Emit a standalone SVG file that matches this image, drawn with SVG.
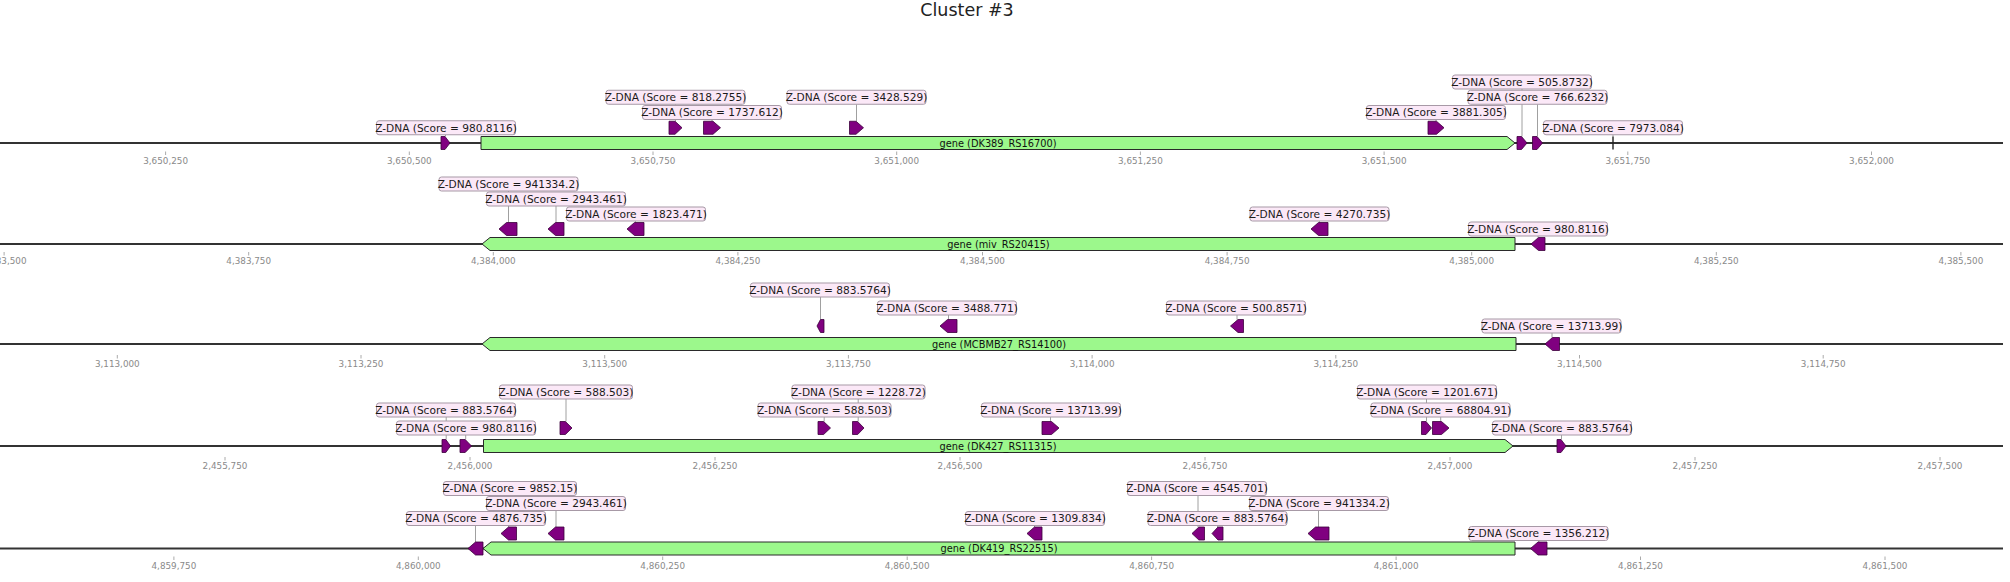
<svg xmlns="http://www.w3.org/2000/svg" width="2010" height="582" viewBox="0 0 2010 582">
<style>
text{font-family:"DejaVu Sans","Liberation Sans",sans-serif}
.title{font-size:17.5px;fill:#222;text-anchor:middle}
.ln{stroke:#333;stroke-width:1.8}
.tk line{stroke:#aaa;stroke-width:1}
.tk text{font-size:8.8px;fill:#8a8a8a;text-anchor:middle}
.c line{stroke:#a0a0a0;stroke-width:1}
.g{fill:#9cf88c;stroke:#2a2a2a;stroke-width:1}
.gt{font-size:9.8px;fill:#111;text-anchor:middle}
.z{fill:#800080;stroke:#3b003b;stroke-width:0.8}
.zl{stroke:#222;stroke-width:1.4}
.lb{fill:#fbe8f7;stroke:#a799a6;stroke-width:1}
.lt{font-size:10.6px;fill:#1a1a1a;text-anchor:middle}
</style>
<rect width="2010" height="582" fill="#fff"/>
<text class="title" x="967" y="15.5">Cluster #3</text>

<g id="axes">
<line class="ln" x1="0" y1="143" x2="2003" y2="143"/>
<line class="ln" x1="0" y1="244" x2="2003" y2="244"/>
<line class="ln" x1="0" y1="344" x2="2003" y2="344"/>
<line class="ln" x1="0" y1="446" x2="2003" y2="446"/>
<line class="ln" x1="0" y1="548.5" x2="2003" y2="548.5"/>
<g class="tk">
<line x1="165.6" y1="151.5" x2="165.6" y2="155"/><text x="165.6" y="163.7">3,650,250</text>
<line x1="409.3" y1="151.5" x2="409.3" y2="155"/><text x="409.3" y="163.7">3,650,500</text>
<line x1="653" y1="151.5" x2="653" y2="155"/><text x="653" y="163.7">3,650,750</text>
<line x1="896.7" y1="151.5" x2="896.7" y2="155"/><text x="896.7" y="163.7">3,651,000</text>
<line x1="1140.4" y1="151.5" x2="1140.4" y2="155"/><text x="1140.4" y="163.7">3,651,250</text>
<line x1="1384.1" y1="151.5" x2="1384.1" y2="155"/><text x="1384.1" y="163.7">3,651,500</text>
<line x1="1627.8" y1="151.5" x2="1627.8" y2="155"/><text x="1627.8" y="163.7">3,651,750</text>
<line x1="1871.5" y1="151.5" x2="1871.5" y2="155"/><text x="1871.5" y="163.7">3,652,000</text>

<line x1="4.1" y1="252" x2="4.1" y2="255.5"/><text x="4.1" y="264.2">4,383,500</text>
<line x1="248.7" y1="252" x2="248.7" y2="255.5"/><text x="248.7" y="264.2">4,383,750</text>
<line x1="493.3" y1="252" x2="493.3" y2="255.5"/><text x="493.3" y="264.2">4,384,000</text>
<line x1="737.9" y1="252" x2="737.9" y2="255.5"/><text x="737.9" y="264.2">4,384,250</text>
<line x1="982.5" y1="252" x2="982.5" y2="255.5"/><text x="982.5" y="264.2">4,384,500</text>
<line x1="1227.1" y1="252" x2="1227.1" y2="255.5"/><text x="1227.1" y="264.2">4,384,750</text>
<line x1="1471.7" y1="252" x2="1471.7" y2="255.5"/><text x="1471.7" y="264.2">4,385,000</text>
<line x1="1716.3" y1="252" x2="1716.3" y2="255.5"/><text x="1716.3" y="264.2">4,385,250</text>
<line x1="1960.9" y1="252" x2="1960.9" y2="255.5"/><text x="1960.9" y="264.2">4,385,500</text>

<line x1="117.3" y1="355" x2="117.3" y2="358.5"/><text x="117.3" y="366.7">3,113,000</text>
<line x1="361" y1="355" x2="361" y2="358.5"/><text x="361" y="366.7">3,113,250</text>
<line x1="604.7" y1="355" x2="604.7" y2="358.5"/><text x="604.7" y="366.7">3,113,500</text>
<line x1="848.4" y1="355" x2="848.4" y2="358.5"/><text x="848.4" y="366.7">3,113,750</text>
<line x1="1092.1" y1="355" x2="1092.1" y2="358.5"/><text x="1092.1" y="366.7">3,114,000</text>
<line x1="1335.8" y1="355" x2="1335.8" y2="358.5"/><text x="1335.8" y="366.7">3,114,250</text>
<line x1="1579.5" y1="355" x2="1579.5" y2="358.5"/><text x="1579.5" y="366.7">3,114,500</text>
<line x1="1823.2" y1="355" x2="1823.2" y2="358.5"/><text x="1823.2" y="366.7">3,114,750</text>

<line x1="225" y1="457" x2="225" y2="460.5"/><text x="225" y="469.2">2,455,750</text>
<line x1="470" y1="457" x2="470" y2="460.5"/><text x="470" y="469.2">2,456,000</text>
<line x1="715" y1="457" x2="715" y2="460.5"/><text x="715" y="469.2">2,456,250</text>
<line x1="960" y1="457" x2="960" y2="460.5"/><text x="960" y="469.2">2,456,500</text>
<line x1="1205" y1="457" x2="1205" y2="460.5"/><text x="1205" y="469.2">2,456,750</text>
<line x1="1450" y1="457" x2="1450" y2="460.5"/><text x="1450" y="469.2">2,457,000</text>
<line x1="1695" y1="457" x2="1695" y2="460.5"/><text x="1695" y="469.2">2,457,250</text>
<line x1="1940" y1="457" x2="1940" y2="460.5"/><text x="1940" y="469.2">2,457,500</text>

<line x1="173.9" y1="556.5" x2="173.9" y2="560"/><text x="173.9" y="569">4,859,750</text>
<line x1="418.3" y1="556.5" x2="418.3" y2="560"/><text x="418.3" y="569">4,860,000</text>
<line x1="662.7" y1="556.5" x2="662.7" y2="560"/><text x="662.7" y="569">4,860,250</text>
<line x1="907.2" y1="556.5" x2="907.2" y2="560"/><text x="907.2" y="569">4,860,500</text>
<line x1="1151.6" y1="556.5" x2="1151.6" y2="560"/><text x="1151.6" y="569">4,860,750</text>
<line x1="1396.1" y1="556.5" x2="1396.1" y2="560"/><text x="1396.1" y="569">4,861,000</text>
<line x1="1640.5" y1="556.5" x2="1640.5" y2="560"/><text x="1640.5" y="569">4,861,250</text>
<line x1="1885" y1="556.5" x2="1885" y2="560"/><text x="1885" y="569">4,861,500</text>
</g>
</g>

<g id="connectors" class="c">
<line x1="445.5" y1="134.75" x2="445.5" y2="136.5"/>
<line x1="675.5" y1="104.25" x2="675.5" y2="121.25"/>
<line x1="712" y1="119.5" x2="712" y2="121.25"/>
<line x1="856.5" y1="104.25" x2="856.5" y2="121.25"/>
<line x1="1436" y1="119.5" x2="1436" y2="121.25"/>
<line x1="1522" y1="89" x2="1522" y2="136.5"/>
<line x1="1537.5" y1="104.25" x2="1537.5" y2="136.5"/>
<line x1="1613" y1="134.75" x2="1613" y2="136.5"/>

<line x1="508.5" y1="191" x2="508.5" y2="222.5"/>
<line x1="556" y1="206" x2="556" y2="222.5"/>
<line x1="635.5" y1="221" x2="635.5" y2="222.5"/>
<line x1="1319.5" y1="221" x2="1319.5" y2="222.5"/>
<line x1="1538" y1="236" x2="1538" y2="237.5"/>

<line x1="820.5" y1="297" x2="820.5" y2="319.5"/>
<line x1="948.5" y1="315" x2="948.5" y2="319.5"/>
<line x1="1237" y1="315" x2="1237" y2="319.5"/>
<line x1="1552" y1="333" x2="1552" y2="337.5"/>

<line x1="446.2" y1="417" x2="446.2" y2="439.5"/>
<line x1="465.7" y1="435" x2="465.7" y2="439.5"/>
<line x1="566" y1="399" x2="566" y2="421.5"/>
<line x1="824.2" y1="417" x2="824.2" y2="421.5"/>
<line x1="858.2" y1="399" x2="858.2" y2="421.5"/>
<line x1="1050.5" y1="417" x2="1050.5" y2="421.5"/>
<line x1="1426.5" y1="399" x2="1426.5" y2="421.5"/>
<line x1="1440.7" y1="417" x2="1440.7" y2="421.5"/>
<line x1="1561.5" y1="435" x2="1561.5" y2="439.5"/>

<line x1="475.5" y1="525.5" x2="475.5" y2="542"/>
<line x1="508.7" y1="495.5" x2="508.7" y2="527"/>
<line x1="556" y1="510.5" x2="556" y2="527"/>
<line x1="1034.5" y1="525.5" x2="1034.5" y2="527"/>
<line x1="1198" y1="495.5" x2="1198" y2="527"/>
<line x1="1217.5" y1="525.5" x2="1217.5" y2="527"/>
<line x1="1318.5" y1="510.5" x2="1318.5" y2="527"/>
<line x1="1538.8" y1="540.5" x2="1538.8" y2="542"/>
</g>

<!-- Track 1 -->
<g id="t1-gene"><polygon class="g" points="481,136.5 1507,136.5 1515,143 1507,149.5 481,149.5"/><text class="gt" x="998" y="146.5">gene (DK389_RS16700)</text></g>
<g id="t1-z1"><polygon class="z" points="441,136.5 445,136.5 450,143 445,149.5 441,149.5"/><rect class="lb" x="376.5" y="120.75" width="139" height="14" rx="2.5"/><text class="lt" x="446" y="131.55">Z-DNA (Score = 980.8116)</text></g>
<g id="t1-z2"><polygon class="z" points="669,121.25 675,121.25 682,127.75 675,134.25 669,134.25"/><rect class="lb" x="606" y="90.25" width="139" height="14" rx="2.5"/><text class="lt" x="675.5" y="101.05">Z-DNA (Score = 818.2755)</text></g>
<g id="t1-z3"><polygon class="z" points="703.5,121.25 713,121.25 720.5,127.75 713,134.25 703.5,134.25"/><rect class="lb" x="642.5" y="105.5" width="139" height="14" rx="2.5"/><text class="lt" x="712" y="116.3">Z-DNA (Score = 1737.612)</text></g>
<g id="t1-z4"><polygon class="z" points="849.5,121.25 856,121.25 863.5,127.75 856,134.25 849.5,134.25"/><rect class="lb" x="787" y="90.25" width="139" height="14" rx="2.5"/><text class="lt" x="856.5" y="101.05">Z-DNA (Score = 3428.529)</text></g>
<g id="t1-z5"><polygon class="z" points="1428,121.25 1436.5,121.25 1444,127.75 1436.5,134.25 1428,134.25"/><rect class="lb" x="1366.5" y="105.5" width="139" height="14" rx="2.5"/><text class="lt" x="1436" y="116.3">Z-DNA (Score = 3881.305)</text></g>
<g id="t1-z6"><polygon class="z" points="1517,136.5 1521.5,136.5 1527,143 1521.5,149.5 1517,149.5"/><rect class="lb" x="1452.5" y="75" width="139" height="14" rx="2.5"/><text class="lt" x="1522" y="85.8">Z-DNA (Score = 505.8732)</text></g>
<g id="t1-z7"><polygon class="z" points="1532.5,136.5 1537,136.5 1542.5,143 1537,149.5 1532.5,149.5"/><rect class="lb" x="1468" y="90.25" width="139" height="14" rx="2.5"/><text class="lt" x="1537.5" y="101.05">Z-DNA (Score = 766.6232)</text></g>
<g id="t1-z8"><line class="zl" x1="1613" y1="136.5" x2="1613" y2="149.5"/><rect class="lb" x="1543.5" y="120.75" width="139" height="14" rx="2.5"/><text class="lt" x="1613" y="131.55">Z-DNA (Score = 7973.084)</text></g>

<!-- Track 2 -->
<g id="t2-gene"><polygon class="g" points="1515,237.5 490,237.5 482,244 490,250.5 1515,250.5"/><text class="gt" x="998.5" y="247.5">gene (miv_RS20415)</text></g>
<g id="t2-z1"><polygon class="z" points="517,222.5 506.5,222.5 499,229 506.5,235.5 517,235.5"/><rect class="lb" x="439" y="177" width="139" height="14" rx="2.5"/><text class="lt" x="508.5" y="187.8">Z-DNA (Score = 941334.2)</text></g>
<g id="t2-z2"><polygon class="z" points="564,222.5 555.5,222.5 548,229 555.5,235.5 564,235.5"/><rect class="lb" x="486.5" y="192" width="139" height="14" rx="2.5"/><text class="lt" x="556" y="202.8">Z-DNA (Score = 2943.461)</text></g>
<g id="t2-z3"><polygon class="z" points="644,222.5 634.5,222.5 627,229 634.5,235.5 644,235.5"/><rect class="lb" x="566.5" y="207" width="139" height="14" rx="2.5"/><text class="lt" x="636" y="217.8">Z-DNA (Score = 1823.471)</text></g>
<g id="t2-z4"><polygon class="z" points="1328,222.5 1318.5,222.5 1311,229 1318.5,235.5 1328,235.5"/><rect class="lb" x="1250" y="207" width="139" height="14" rx="2.5"/><text class="lt" x="1319.5" y="217.8">Z-DNA (Score = 4270.735)</text></g>
<g id="t2-z5"><polygon class="z" points="1545,237.5 1538.5,237.5 1531,244 1538.5,250.5 1545,250.5"/><rect class="lb" x="1468.5" y="222" width="139" height="14" rx="2.5"/><text class="lt" x="1538" y="232.8">Z-DNA (Score = 980.8116)</text></g>

<!-- Track 3 -->
<g id="t3-gene"><polygon class="g" points="1516,337.5 490,337.5 482,344 490,350.5 1516,350.5"/><text class="gt" x="999" y="347.5">gene (MCBMB27_RS14100)</text></g>
<g id="t3-z1"><polygon class="z" points="824,319.5 820.5,319.5 817,326 820.5,332.5 824,332.5"/><rect class="lb" x="750.5" y="283" width="139" height="14" rx="2.5"/><text class="lt" x="820" y="293.8">Z-DNA (Score = 883.5764)</text></g>
<g id="t3-z2"><polygon class="z" points="957,319.5 947.5,319.5 940,326 947.5,332.5 957,332.5"/><rect class="lb" x="877.5" y="301" width="139" height="14" rx="2.5"/><text class="lt" x="947" y="311.8">Z-DNA (Score = 3488.771)</text></g>
<g id="t3-z3"><polygon class="z" points="1243.5,319.5 1238,319.5 1230.5,326 1238,332.5 1243.5,332.5"/><rect class="lb" x="1166.5" y="301" width="139" height="14" rx="2.5"/><text class="lt" x="1236" y="311.8">Z-DNA (Score = 500.8571)</text></g>
<g id="t3-z4"><polygon class="z" points="1559.5,337.5 1552.5,337.5 1545,344 1552.5,350.5 1559.5,350.5"/><rect class="lb" x="1482" y="319" width="139" height="14" rx="2.5"/><text class="lt" x="1551.5" y="329.8">Z-DNA (Score = 13713.99)</text></g>

<!-- Track 4 -->
<g id="t4-gene"><polygon class="g" points="483.5,439.5 1505,439.5 1513,446 1505,452.5 483.5,452.5"/><text class="gt" x="998" y="449.5">gene (DK427_RS11315)</text></g>
<g id="t4-z1"><polygon class="z" points="442,439.5 445.8,439.5 450.5,446 445.8,452.5 442,452.5"/><rect class="lb" x="376.5" y="403" width="139" height="14" rx="2.5"/><text class="lt" x="446" y="413.8">Z-DNA (Score = 883.5764)</text></g>
<g id="t4-z2"><polygon class="z" points="460,439.5 465.2,439.5 471.5,446 465.2,452.5 460,452.5"/><rect class="lb" x="396.5" y="421" width="139" height="14" rx="2.5"/><text class="lt" x="466" y="431.8">Z-DNA (Score = 980.8116)</text></g>
<g id="t4-z3"><polygon class="z" points="560,421.5 565.4,421.5 572,428 565.4,434.5 560,434.5"/><rect class="lb" x="499.5" y="385" width="133" height="14" rx="2.5"/><text class="lt" x="566" y="395.8">Z-DNA (Score = 588.503)</text></g>
<g id="t4-z4"><polygon class="z" points="818,421.5 823.6,421.5 830.5,428 823.6,434.5 818,434.5"/><rect class="lb" x="758" y="403" width="133" height="14" rx="2.5"/><text class="lt" x="824.5" y="413.8">Z-DNA (Score = 588.503)</text></g>
<g id="t4-z5"><polygon class="z" points="852.5,421.5 857.7,421.5 864,428 857.7,434.5 852.5,434.5"/><rect class="lb" x="792" y="385" width="133" height="14" rx="2.5"/><text class="lt" x="858.5" y="395.8">Z-DNA (Score = 1228.72)</text></g>
<g id="t4-z6"><polygon class="z" points="1042,421.5 1051.5,421.5 1059,428 1051.5,434.5 1042,434.5"/><rect class="lb" x="981.5" y="403" width="139" height="14" rx="2.5"/><text class="lt" x="1051" y="413.8">Z-DNA (Score = 13713.99)</text></g>
<g id="t4-z7"><polygon class="z" points="1421.5,421.5 1426,421.5 1431.5,428 1426,434.5 1421.5,434.5"/><rect class="lb" x="1357.5" y="385" width="139" height="14" rx="2.5"/><text class="lt" x="1427" y="395.8">Z-DNA (Score = 1201.671)</text></g>
<g id="t4-z8"><polygon class="z" points="1432.5,421.5 1441.5,421.5 1449,428 1441.5,434.5 1432.5,434.5"/><rect class="lb" x="1371" y="403" width="139" height="14" rx="2.5"/><text class="lt" x="1440.5" y="413.8">Z-DNA (Score = 68804.91)</text></g>
<g id="t4-z9"><polygon class="z" points="1557,439.5 1561,439.5 1566,446 1561,452.5 1557,452.5"/><rect class="lb" x="1492.5" y="421" width="139" height="14" rx="2.5"/><text class="lt" x="1562" y="431.8">Z-DNA (Score = 883.5764)</text></g>

<!-- Track 5 -->
<g id="t5-gene"><polygon class="g" points="1515,542 491,542 483,548.5 491,555 1515,555"/><text class="gt" x="999" y="552">gene (DK419_RS22515)</text></g>
<g id="t5-z1"><polygon class="z" points="483,542 475.5,542 468,548.5 475.5,555 483,555"/><rect class="lb" x="406.5" y="511.5" width="139" height="14" rx="2.5"/><text class="lt" x="476" y="522.3">Z-DNA (Score = 4876.735)</text></g>
<g id="t5-z2"><polygon class="z" points="516.5,527 508.5,527 501,533.5 508.5,540 516.5,540"/><rect class="lb" x="443.5" y="481.5" width="133" height="14" rx="2.5"/><text class="lt" x="510" y="492.3">Z-DNA (Score = 9852.15)</text></g>
<g id="t5-z3"><polygon class="z" points="564,527 555.5,527 548,533.5 555.5,540 564,540"/><rect class="lb" x="486.5" y="496.5" width="139" height="14" rx="2.5"/><text class="lt" x="556" y="507.3">Z-DNA (Score = 2943.461)</text></g>
<g id="t5-z4"><polygon class="z" points="1042,527 1034.5,527 1027,533.5 1034.5,540 1042,540"/><rect class="lb" x="965.5" y="511.5" width="139" height="14" rx="2.5"/><text class="lt" x="1035" y="522.3">Z-DNA (Score = 1309.834)</text></g>
<g id="t5-z5"><polygon class="z" points="1204.5,527 1198.9,527 1192,533.5 1198.9,540 1204.5,540"/><rect class="lb" x="1127.5" y="481.5" width="139" height="14" rx="2.5"/><text class="lt" x="1197" y="492.3">Z-DNA (Score = 4545.701)</text></g>
<g id="t5-z6"><polygon class="z" points="1223,527 1218,527 1212,533.5 1218,540 1223,540"/><rect class="lb" x="1148" y="511.5" width="139" height="14" rx="2.5"/><text class="lt" x="1217.5" y="522.3">Z-DNA (Score = 883.5764)</text></g>
<g id="t5-z7"><polygon class="z" points="1329,527 1315.5,527 1308,533.5 1315.5,540 1329,540"/><rect class="lb" x="1249.5" y="496.5" width="139" height="14" rx="2.5"/><text class="lt" x="1319" y="507.3">Z-DNA (Score = 941334.2)</text></g>
<g id="t5-z8"><polygon class="z" points="1547,542 1538,542 1530.5,548.5 1538,555 1547,555"/><rect class="lb" x="1469" y="526.5" width="139" height="14" rx="2.5"/><text class="lt" x="1538.5" y="537.3">Z-DNA (Score = 1356.212)</text></g>
</svg>
